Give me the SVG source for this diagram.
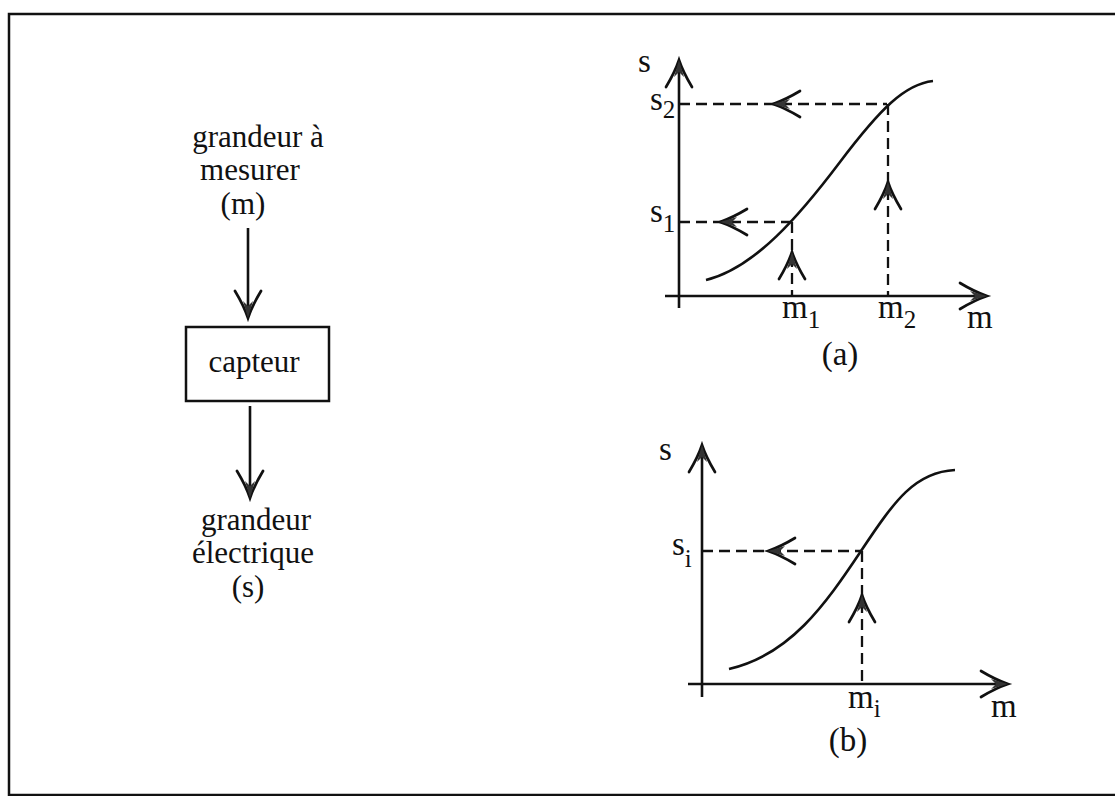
<svg xmlns="http://www.w3.org/2000/svg" xmlns:xlink="http://www.w3.org/1999/xlink" width="1115" height="796" viewBox="0 0 1115 796">
<style>
  .t { font-family: "Liberation Serif", "Times New Roman", serif; font-size: 31px; fill: #111; }
  .g { font-family: "Liberation Serif", "Times New Roman", serif; font-size: 33px; fill: #111; }
  .sub { font-size: 25px; }
  .ln { stroke: #111; stroke-width: 2.6; fill: none; }
  .ds { stroke: #111; stroke-width: 2.3; fill: none; stroke-dasharray: 11 6; }
</style>
<defs>
  <g id="ah">
    <path d="M-27,-13 Q-12,-4 0,0 Q-12,4 -27,13" fill="none" stroke="#111" stroke-width="2.7" stroke-linecap="round"/>
    <path d="M0,0 L-17,-5 L-12,0 L-17,5 Z" fill="#333"/>
  </g>
</defs>
<rect width="1115" height="796" fill="#fff"/>
<rect x="9" y="14" width="1115" height="781" fill="none" stroke="#111" stroke-width="2.5"/>

<g id="label-input">
  <text class="t" x="258" y="147" text-anchor="middle">grandeur à</text>
  <text class="t" x="250" y="180" text-anchor="middle">mesurer</text>
  <text class="t" x="243" y="214" text-anchor="middle">(m)</text>
</g>
<g id="node-capteur">
  <rect x="186" y="327" width="143" height="74" fill="none" stroke="#111" stroke-width="2.5"/>
  <text class="t" x="254" y="372" text-anchor="middle">capteur</text>
</g>
<g id="label-output">
  <text class="t" x="256" y="530" text-anchor="middle">grandeur</text>
  <text class="t" x="253" y="563" text-anchor="middle">électrique</text>
  <text class="t" x="248" y="597" text-anchor="middle">(s)</text>
</g>
<g id="connectors">
  <line class="ln" x1="248" y1="228" x2="248" y2="317"/>
  <use xlink:href="#ah" transform="translate(248,318) rotate(90)"/>
  <line class="ln" x1="250" y1="406" x2="250" y2="497"/>
  <use xlink:href="#ah" transform="translate(250,498) rotate(90)"/>
</g>

<g id="graph-a">
  <line class="ln" x1="679" y1="308" x2="679" y2="61"/>
  <use xlink:href="#ah" transform="translate(679,60) rotate(-90)"/>
  <line class="ln" x1="665" y1="296" x2="986" y2="296"/>
  <use xlink:href="#ah" transform="translate(987,296)"/>
  <path class="ln" d="M706,280 C755,268 800,215 840,162 C880,109 905,84 933,81"/>
  <line class="ds" x1="679" y1="104" x2="887" y2="104"/>
  <line class="ds" x1="888" y1="104" x2="888" y2="296"/>
  <line class="ds" x1="679" y1="222" x2="792" y2="222"/>
  <line class="ds" x1="792" y1="222" x2="792" y2="296"/>
  <use xlink:href="#ah" transform="translate(773,104) rotate(180)"/>
  <use xlink:href="#ah" transform="translate(720,222) rotate(180)"/>
  <use xlink:href="#ah" transform="translate(792,252) rotate(-90)"/>
  <use xlink:href="#ah" transform="translate(888,182) rotate(-90)"/>
  <text class="g" x="638" y="72">s</text>
  <text class="g" x="650" y="110">s<tspan class="sub" dy="8">2</tspan></text>
  <text class="g" x="650" y="222">s<tspan class="sub" dy="10">1</tspan></text>
  <text class="g" x="782" y="318">m<tspan class="sub" dy="10">1</tspan></text>
  <text class="g" x="878" y="318">m<tspan class="sub" dy="10">2</tspan></text>
  <text class="g" x="967" y="328">m</text>
  <text class="g" x="840" y="365" text-anchor="middle">(a)</text>
</g>

<g id="graph-b">
  <line class="ln" x1="702" y1="697" x2="702" y2="446"/>
  <use xlink:href="#ah" transform="translate(702,445) rotate(-90)"/>
  <line class="ln" x1="688" y1="684" x2="1007" y2="684"/>
  <use xlink:href="#ah" transform="translate(1008,684)"/>
  <path class="ln" d="M729,669 C790,655 825,605 861,551 C895,500 915,472 955,470"/>
  <line class="ds" x1="702" y1="551" x2="861" y2="551"/>
  <line class="ds" x1="862" y1="551" x2="862" y2="684"/>
  <use xlink:href="#ah" transform="translate(768,551) rotate(180)"/>
  <use xlink:href="#ah" transform="translate(862,595) rotate(-90)"/>
  <text class="g" x="659" y="460">s</text>
  <text class="g" x="672" y="555">s<tspan class="sub" dy="12">i</tspan></text>
  <text class="g" x="848" y="708">m<tspan class="sub" dy="9">i</tspan></text>
  <text class="g" x="991" y="717">m</text>
  <text class="g" x="848" y="751" text-anchor="middle">(b)</text>
</g>
</svg>
